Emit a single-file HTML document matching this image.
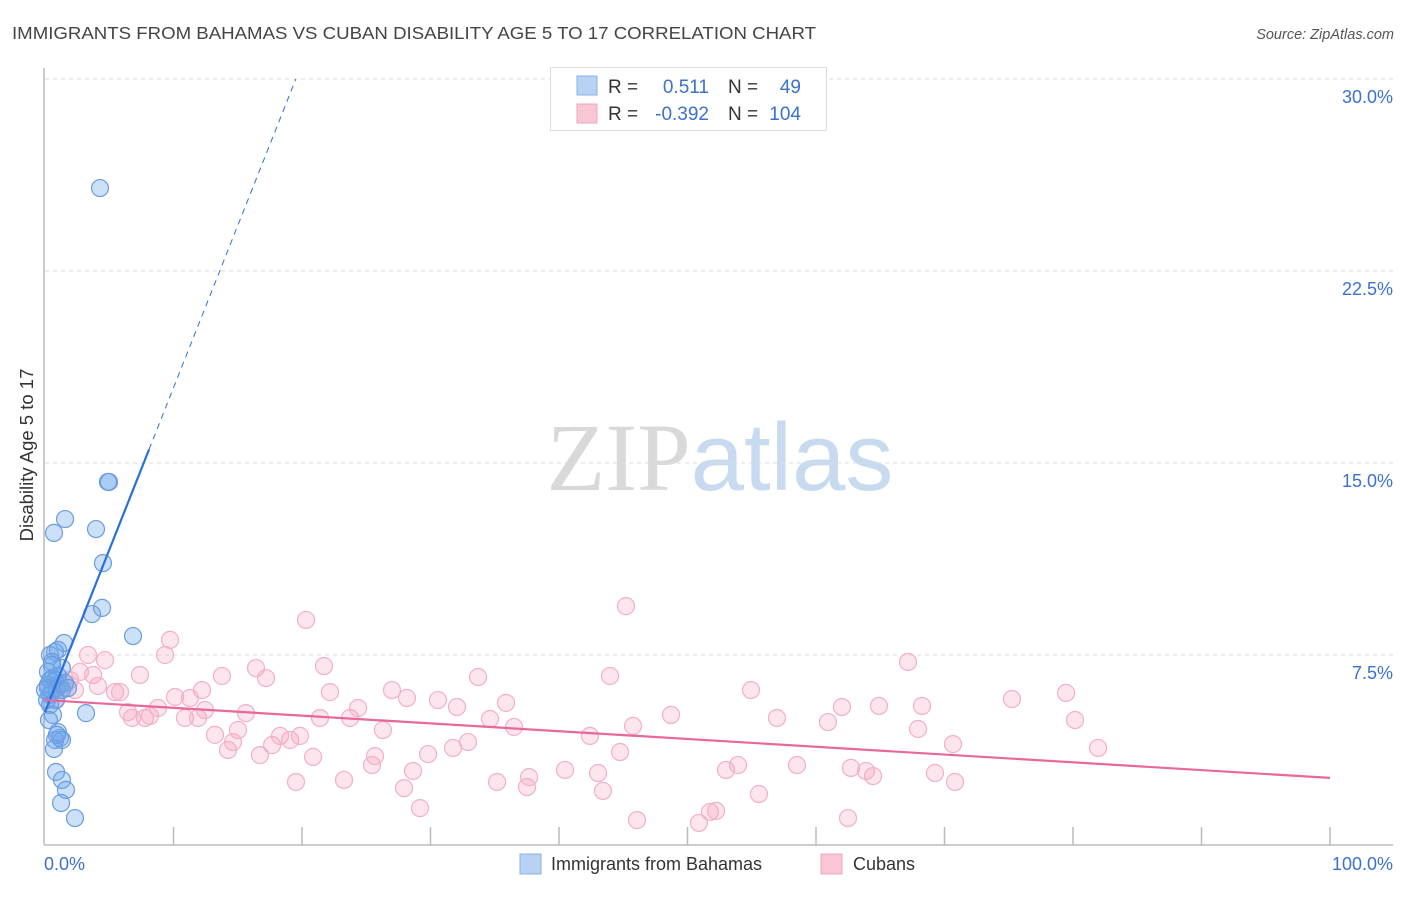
<!DOCTYPE html>
<html><head><meta charset="utf-8"><style>
body{margin:0;background:#fff;font-family:"Liberation Sans",sans-serif;}
svg text{font-family:"Liberation Sans",sans-serif;}
</style></head><body>
<svg id="chart" width="1406" height="892" viewBox="0 0 1406 892" xmlns="http://www.w3.org/2000/svg">
<text x="12" y="39" font-size="17.5" fill="#444" textLength="804" lengthAdjust="spacingAndGlyphs">IMMIGRANTS FROM BAHAMAS VS CUBAN DISABILITY AGE 5 TO 17 CORRELATION CHART</text>
<text x="1394" y="39" font-size="14.5" fill="#555" text-anchor="end" font-style="italic">Source: ZipAtlas.com</text>
<text x="720" y="490" font-size="96" text-anchor="middle"><tspan fill="#d9d9d9" font-family="Liberation Serif,serif">ZIP</tspan><tspan fill="#c8daf0">atlas</tspan></text>
<text transform="translate(33,455) rotate(-90)" font-size="18.5" fill="#333" text-anchor="middle">Disability Age 5 to 17</text>
<g id="grid"></g>
<line x1="44" y1="68" x2="44" y2="845" stroke="#bbb" stroke-width="1.5"/>
<line x1="44" y1="845" x2="1393" y2="845" stroke="#bbb" stroke-width="1.5"/>
<g id="ticks"></g>
<g id="points"></g>
<g id="trends"></g>
<g>
<rect x="550.5" y="67.5" width="276" height="63" fill="#fff" stroke="#ddd"/>
<rect x="577" y="76" width="20" height="19" fill="#b8d2f4" stroke="#8ab2e6"/>
<rect x="577" y="104" width="20" height="19" fill="#f9c6d6" stroke="#f0a4bc"/>
<text x="608" y="93" font-size="19" fill="#333">R =</text>
<text x="709" y="93" font-size="19" fill="#3a72cc" text-anchor="end">0.511</text>
<text x="728" y="93" font-size="19" fill="#333">N =</text>
<text x="801" y="93" font-size="19" fill="#3a72cc" text-anchor="end">49</text>
<text x="608" y="120" font-size="19" fill="#333">R =</text>
<text x="709" y="120" font-size="19" fill="#3a72cc" text-anchor="end">-0.392</text>
<text x="728" y="120" font-size="19" fill="#333">N =</text>
<text x="801" y="120" font-size="19" fill="#3a72cc" text-anchor="end">104</text>
</g>
<g>
<rect x="520" y="854" width="21" height="20" fill="#b8d2f4" stroke="#8ab2e6"/>
<text x="551" y="870" font-size="18" fill="#333">Immigrants from Bahamas</text>
<rect x="821" y="854" width="21" height="20" fill="#f9c6d6" stroke="#f0a4bc"/>
<text x="853" y="870" font-size="18" fill="#333">Cubans</text>
</g>
</svg>
<script>
const yTicks=[7.5,15,22.5,30];
const yTickLabels=["7.5%","15.0%","22.5%","30.0%"];
const xTickCount=10;
const xLabels=["0.0%","100.0%"];
const bahamasX=[4.28,4.98,4.90,1.56,0.70,3.97,4.51,4.44,3.66,6.85,1.48,0.78,0.39,1.01,0.54,1.32,0.23,0.39,0.78,1.17,0.23,0.54,0.93,1.56,0.39,0.16,0.62,1.01,1.32,3.19,1.01,1.17,1.32,0.78,0.70,0.86,1.32,1.63,1.25,2.33,0.23,0.54,0.0,1.79,0.86,0.39,0.62,0.31,0.93];
const bahamasY=[25.74,14.26,14.26,12.81,12.27,12.42,11.09,9.34,9.10,8.24,7.97,7.62,7.50,7.70,7.23,6.99,6.84,6.52,6.52,6.33,6.33,6.13,6.21,6.41,5.94,5.74,6.60,6.68,6.13,5.23,4.49,4.26,4.18,4.18,3.83,2.93,2.62,2.23,1.72,1.13,6.21,7.11,6.13,6.21,5.74,5.55,5.16,4.96,4.38];
const cubanX=[0.78,1.17,1.56,1.95,2.33,2.72,3.35,3.74,4.12,4.67,5.45,5.84,6.46,6.77,7.39,7.78,8.17,8.79,9.34,9.73,10.12,10.89,11.28,11.91,12.22,12.45,13.23,13.77,14.24,14.63,15.02,15.64,16.42,16.73,17.20,17.67,18.29,19.07,19.53,19.84,20.31,20.86,21.40,21.71,22.18,23.27,23.74,24.36,25.45,25.68,26.30,27.00,27.94,28.17,28.64,29.18,29.81,30.58,31.75,32.06,32.92,33.70,34.63,35.18,35.88,36.50,37.51,37.67,40.47,42.41,43.04,43.42,43.97,44.75,45.21,45.76,46.07,48.72,50.89,51.75,52.22,53.00,53.93,54.94,55.56,56.96,58.52,60.93,62.02,62.49,62.72,63.89,64.44,64.90,67.16,67.94,68.25,69.26,70.66,70.82,75.25,79.46,80.16,81.95];
const cubanY=[5.74,6.13,6.33,6.52,6.13,6.84,7.50,6.72,6.29,7.30,6.05,6.05,5.27,5.04,6.72,5.04,5.12,5.43,7.50,8.09,5.86,5.04,5.82,5.04,6.13,5.35,4.38,6.68,3.79,4.10,4.57,5.23,6.99,3.59,6.60,3.98,4.34,4.18,2.54,4.34,8.87,3.52,5.04,7.07,6.05,2.62,5.04,5.43,3.20,3.55,4.57,6.13,2.30,5.82,2.97,1.52,3.63,5.74,3.87,5.47,4.10,6.64,5.00,2.54,5.63,4.69,2.34,2.73,3.01,4.34,2.89,2.19,6.68,3.71,9.41,4.73,1.05,5.16,0.94,1.37,1.41,3.01,3.20,6.13,2.07,5.04,3.20,4.88,5.47,1.13,3.09,2.97,2.77,5.51,7.23,4.61,5.51,2.89,4.02,2.54,5.78,6.02,4.96,3.87];
const bahamasTrend=[5.27,1.267];
const cubanTrend=[5.74,-0.0304];
const NS="http://www.w3.org/2000/svg";
const sx=v=>45+v*12.85;
const sy=v=>847-v*25.6;
function mk(tag,attrs,parent){const e=document.createElementNS(NS,tag);for(const k in attrs)e.setAttribute(k,attrs[k]);parent.appendChild(e);return e;}
const grid=document.getElementById('grid'),ticks=document.getElementById('ticks'),pts=document.getElementById('points'),tr=document.getElementById('trends');
yTicks.forEach((t,i)=>{
 const l=mk('line',{x1:45,x2:1393,y1:sy(t),y2:sy(t),stroke:'#ddd','stroke-dasharray':'4,4'},grid);
 
 
 const tx=mk('text',{x:1393,y:sy(t)+24,'font-size':18,fill:'#3a72cc','text-anchor':'end'},ticks);
 tx.textContent=yTickLabels[i];
 
 
});
for(let i=1;i<=xTickCount;i++){
 const l=mk('line',{x1:sx(i*10),x2:sx(i*10),y1:827,y2:845,stroke:'#bbb','stroke-width':1.5},ticks);
 
 
}
const xl0=mk('text',{x:44,y:870,'font-size':18,fill:'#3a72cc'},ticks);xl0.textContent=xLabels[0];


const xl1=mk('text',{x:1393,y:870,'font-size':18,fill:'#3a72cc','text-anchor':'end'},ticks);xl1.textContent=xLabels[1];


cubanX.forEach((x,i)=>{
 const c=mk('circle',{cx:sx(x),cy:sy(cubanY[i]),r:8.5,fill:'rgba(244,160,188,0.28)',stroke:'#f2b0c6','stroke-width':1.2},pts);
 
 
});
bahamasX.forEach((x,i)=>{
 const c=mk('circle',{cx:sx(x),cy:sy(bahamasY[i]),r:8.5,fill:'rgba(110,165,235,0.35)',stroke:'#6a9de0','stroke-width':1.2},pts);
 
 
});
const bx1=8.1,bx2=(30-bahamasTrend[0])/bahamasTrend[1];
const b1=mk('line',{x1:sx(0),y1:sy(bahamasTrend[0]),x2:sx(bx1),y2:sy(bahamasTrend[0]+bahamasTrend[1]*bx1),stroke:'#2b6fd8','stroke-width':2.2},tr);


const b2=mk('line',{x1:sx(bx1),y1:sy(bahamasTrend[0]+bahamasTrend[1]*bx1),x2:sx(bx2),y2:sy(30),stroke:'#2b6fd8','stroke-width':1,'stroke-dasharray':'6,5'},tr);


const c1=mk('line',{x1:sx(0),y1:sy(cubanTrend[0]),x2:sx(100),y2:sy(cubanTrend[0]+cubanTrend[1]*100),stroke:'#e8689a','stroke-width':2.2},tr);


</script>
</body></html>
